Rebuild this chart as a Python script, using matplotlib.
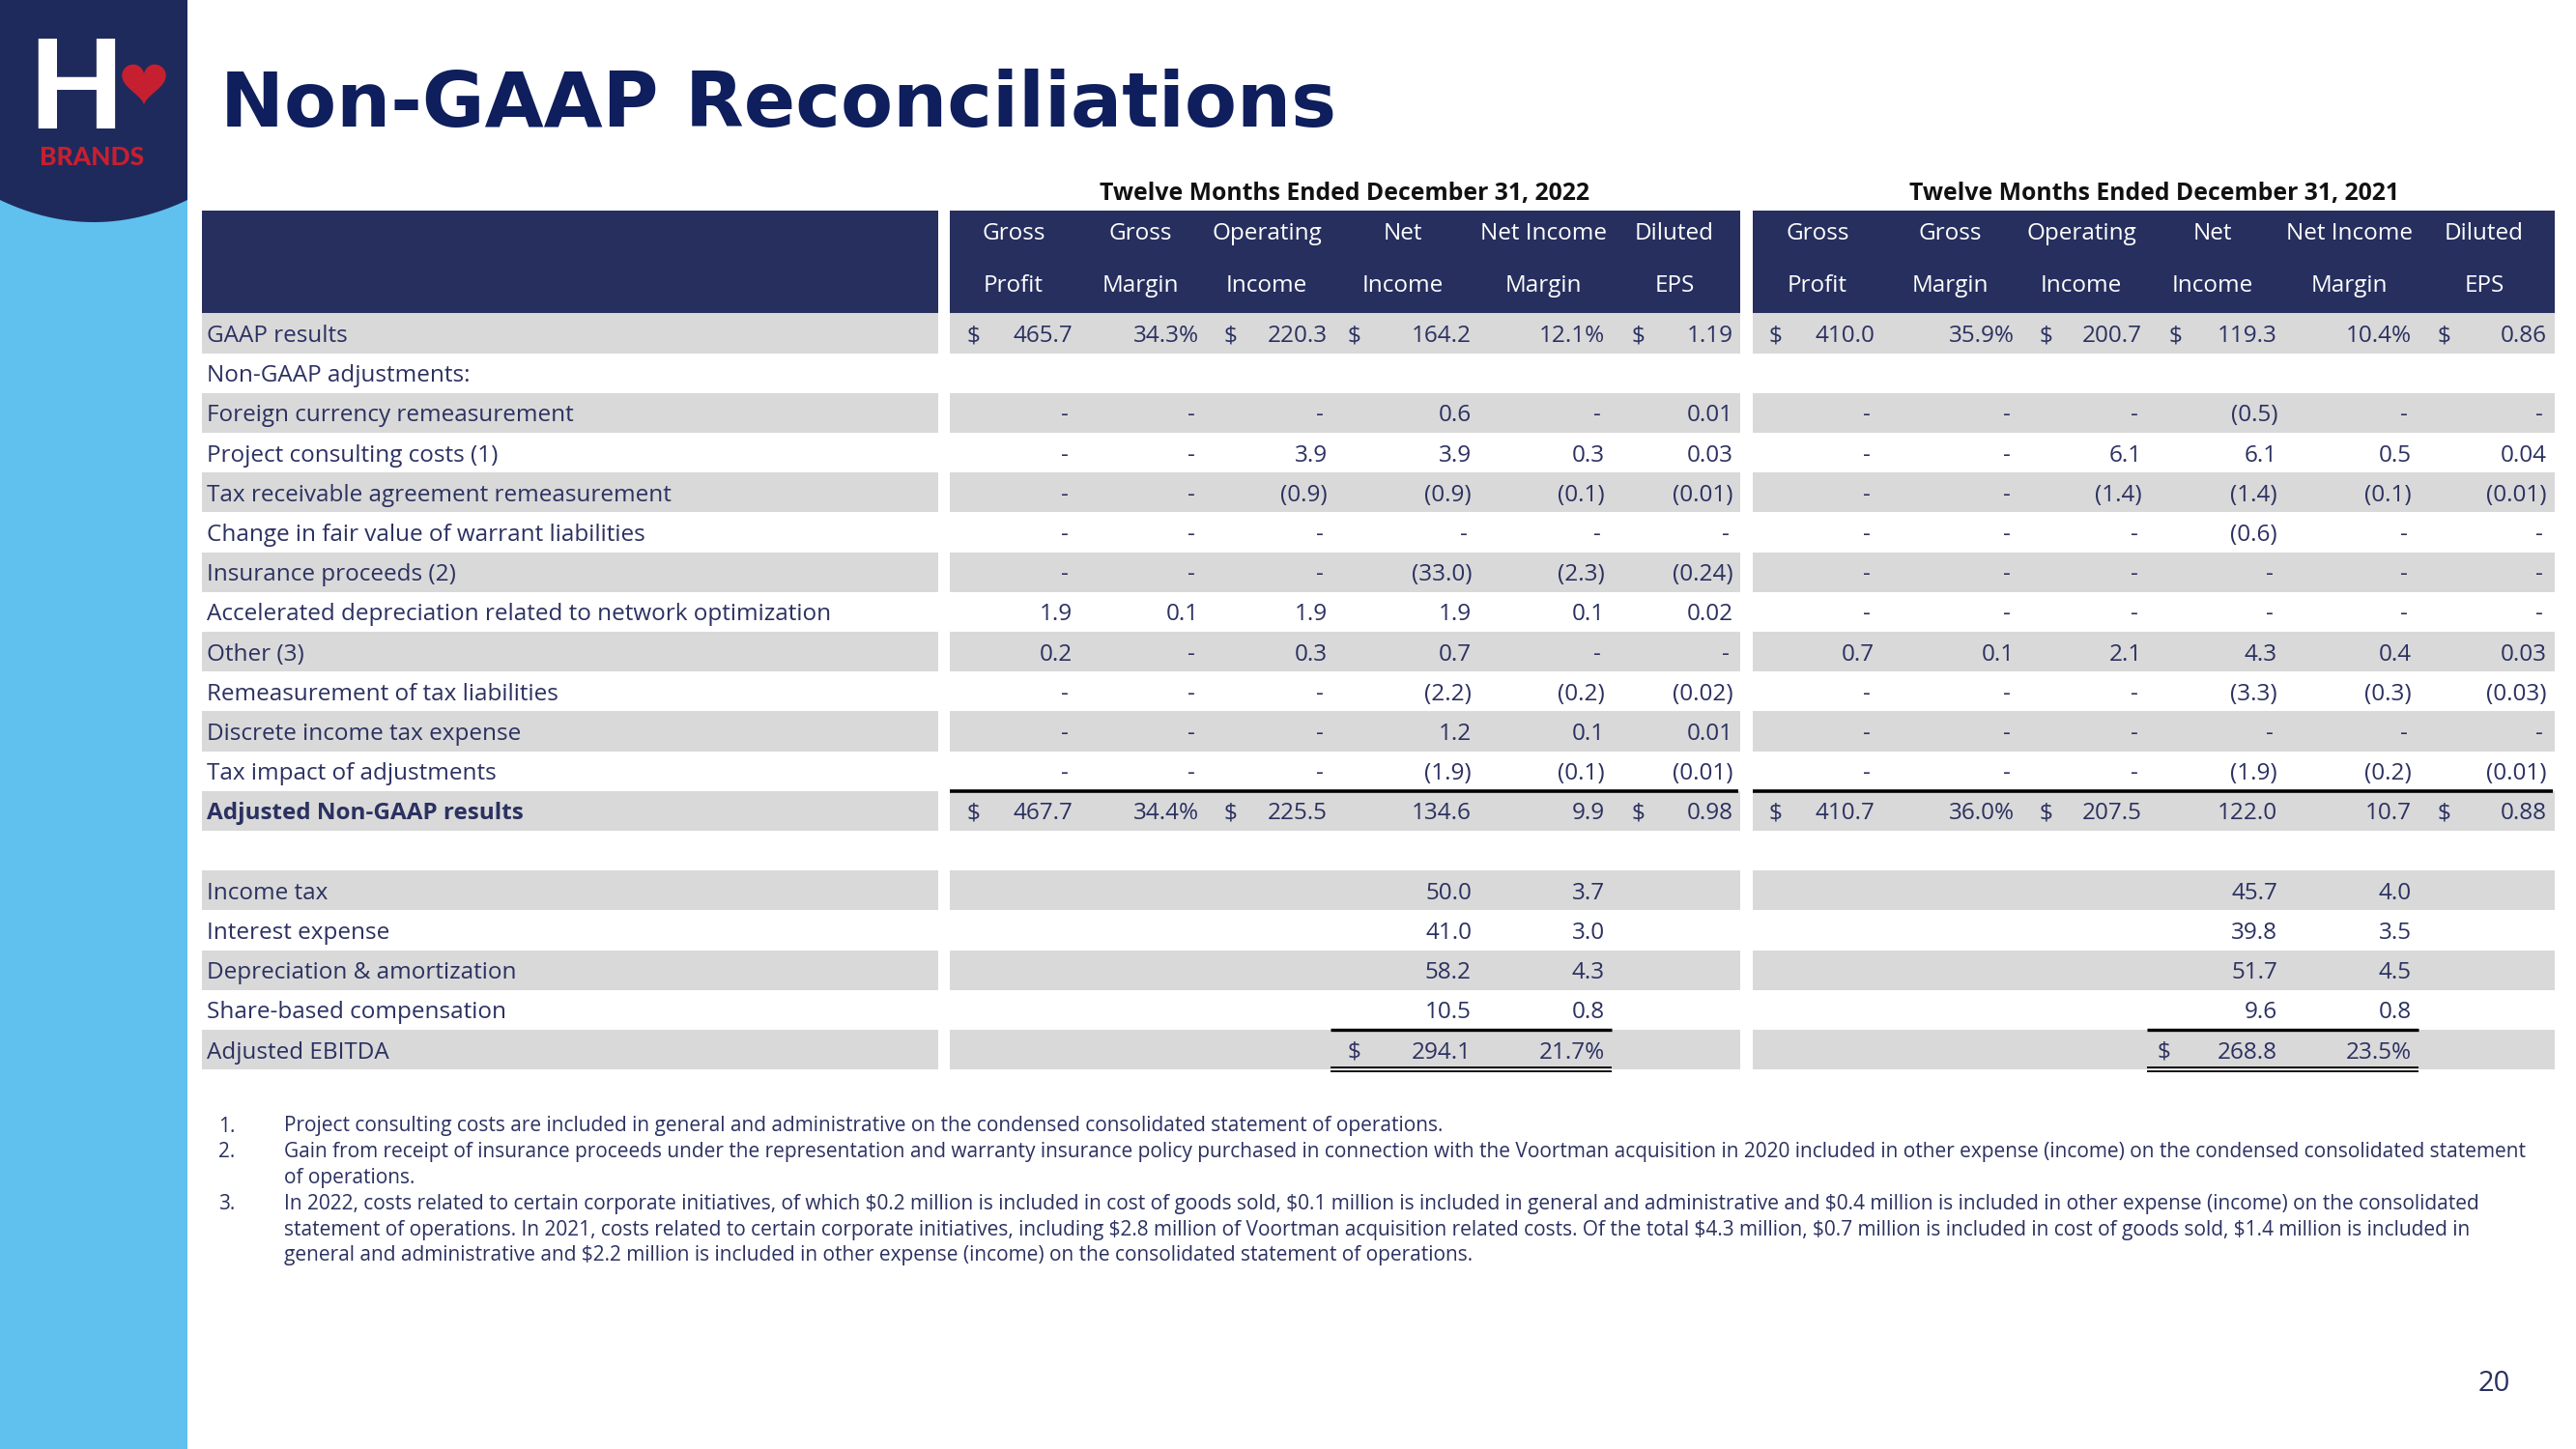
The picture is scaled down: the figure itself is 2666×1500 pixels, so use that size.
import matplotlib
matplotlib.use("Agg")
import matplotlib.pyplot as plt
from matplotlib import font_manager
from matplotlib.patches import Rectangle, Polygon
import numpy as np

plt.rcParams['text.parse_math'] = False

installed = {f.name for f in font_manager.fontManager.ttflist}
def pick(*names):
    for n in names:
        if n in installed:
            return n
    return 'DejaVu Sans'

BODY = pick('Open Sans', 'Lato', 'Noto Sans')
LOGO = pick('Lato', 'Open Sans')
TITLE = 'DejaVu Sans'

# ---- data ----
period_titles = ["Twelve Months Ended December 31, 2022", "Twelve Months Ended December 31, 2021"]
head_top = ["Gross", "Gross", "Operating", "Net", "Net Income", "Diluted"]
head_bot = ["Profit", "Margin", "Income", "Income", "Margin", "EPS"]

row_labels = ["GAAP results", "Non-GAAP adjustments:", "Foreign currency remeasurement",
              "Project consulting costs (1)", "Tax receivable agreement remeasurement",
              "Change in fair value of warrant liabilities", "Insurance proceeds (2)",
              "Accelerated depreciation related to network optimization", "Other (3)",
              "Remeasurement of tax liabilities", "Discrete income tax expense",
              "Tax impact of adjustments", "Adjusted Non-GAAP results"]

vals_2022 = [
    ["$465.7", "34.3%", "$220.3", "$164.2", "12.1%", "$1.19"],
    ["", "", "", "", "", ""],
    ["-", "-", "-", "0.6", "-", "0.01"],
    ["-", "-", "3.9", "3.9", "0.3", "0.03"],
    ["-", "-", "(0.9)", "(0.9)", "(0.1)", "(0.01)"],
    ["-", "-", "-", "-", "-", "-"],
    ["-", "-", "-", "(33.0)", "(2.3)", "(0.24)"],
    ["1.9", "0.1", "1.9", "1.9", "0.1", "0.02"],
    ["0.2", "-", "0.3", "0.7", "-", "-"],
    ["-", "-", "-", "(2.2)", "(0.2)", "(0.02)"],
    ["-", "-", "-", "1.2", "0.1", "0.01"],
    ["-", "-", "-", "(1.9)", "(0.1)", "(0.01)"],
    ["$467.7", "34.4%", "$225.5", "134.6", "9.9", "$0.98"],
]
vals_2021 = [
    ["$410.0", "35.9%", "$200.7", "$119.3", "10.4%", "$0.86"],
    ["", "", "", "", "", ""],
    ["-", "-", "-", "(0.5)", "-", "-"],
    ["-", "-", "6.1", "6.1", "0.5", "0.04"],
    ["-", "-", "(1.4)", "(1.4)", "(0.1)", "(0.01)"],
    ["-", "-", "-", "(0.6)", "-", "-"],
    ["-", "-", "-", "-", "-", "-"],
    ["-", "-", "-", "-", "-", "-"],
    ["0.7", "0.1", "2.1", "4.3", "0.4", "0.03"],
    ["-", "-", "-", "(3.3)", "(0.3)", "(0.03)"],
    ["-", "-", "-", "-", "-", "-"],
    ["-", "-", "-", "(1.9)", "(0.2)", "(0.01)"],
    ["$410.7", "36.0%", "$207.5", "122.0", "10.7", "$0.88"],
]

ebitda_labels = ["Income tax", "Interest expense", "Depreciation & amortization",
                 "Share-based compensation", "Adjusted EBITDA"]
ebitda_ni_2022 = ["50.0", "41.0", "58.2", "10.5", "$294.1"]
ebitda_margin_2022 = ["3.7", "3.0", "4.3", "0.8", "21.7%"]
ebitda_ni_2021 = ["45.7", "39.8", "51.7", "9.6", "$268.8"]
ebitda_margin_2021 = ["4.0", "3.5", "4.5", "0.8", "23.5%"]

footnotes = [
    ("1.", ["Project consulting costs are included in general and administrative on the condensed consolidated statement of operations."]),
    ("2.", ["Gain from receipt of insurance proceeds under the representation and warranty insurance policy purchased in connection with the Voortman acquisition in 2020 included in other expense (income) on the condensed consolidated statement",
            "of operations."]),
    ("3.", ["In 2022, costs related to certain corporate initiatives, of which $0.2 million is included in cost of goods sold, $0.1 million is included in general and administrative and $0.4 million is included in other expense (income) on the consolidated",
            "statement of operations. In 2021, costs related to certain corporate initiatives, including $2.8 million of Voortman acquisition related costs. Of the total $4.3 million, $0.7 million is included in cost of goods sold, $1.4 million is included in",
            "general and administrative and $2.2 million is included in other expense (income) on the consolidated statement of operations."]),
]

# ---- style / layout ----
NAVY = "#262F5E"
TXT = "#2B3160"
TITLE_C = "#0F1E5C"
GRAY = "#D9D9D9"
SKY = "#60C0EE"
RED = "#C62030"

W, H = 2666, 1500
fig = plt.figure(figsize=(W / 100, H / 100), dpi=100)
ax = fig.add_axes([0, 0, 1, 1])
ax.set_xlim(0, W)
ax.set_ylim(H, 0)
ax.axis('off')

# sidebar + logo
ax.add_patch(Rectangle((0, 0), 194, H, color=SKY, lw=0))
xs = np.linspace(0, 194, 60)
ys = 207 + 23 * (1 - ((xs - 97) / 97) ** 2)
ax.add_patch(Polygon(np.column_stack([np.r_[0, xs, 194], np.r_[0, ys, 0]]), closed=True, color="#1F2A5C", lw=0))
ax.text(79, 96, "H", color="white", fontsize=92, fontfamily=LOGO, fontweight='black', ha='center', va='center')
t = np.linspace(0, 2 * np.pi, 200)
hx = 16 * np.sin(t) ** 3
hy = 13 * np.cos(t) - 5 * np.cos(2 * t) - 2 * np.cos(3 * t) - np.cos(4 * t)
ax.add_patch(Polygon(np.column_stack([149 + hx * 1.42, 84 - hy * 1.45]), closed=True, color=RED, lw=0))
ax.text(95, 163, "BRANDS", color=RED, fontsize=19, fontfamily=LOGO, fontweight='black', ha='center', va='center')

ax.text(228, 109, "Non-GAAP Reconciliations", color=TITLE_C, fontsize=56.8, fontfamily=TITLE,
        fontweight='bold', ha='left', va='center')

# table geometry
lab_x0, lab_x1 = 209, 971
blocks = [(983, 1801), (1814, 2644)]
rights = [[1110, 1241, 1374, 1523, 1661, 1794], [1940, 2085, 2217, 2357, 2496, 2636]]
dollars = [[1000, None, 1267, 1394, None, 1688], [1830, None, 2110, 2244, None, 2522]]
centers = [[1049, 1180, 1311, 1452, 1597, 1733], [1881, 2018, 2154, 2290, 2431, 2571]]
row0, rh = 345, 41.2
hdr_top, hdr_bot = 218, 324.4
FS = 17.5
DY = 3

def ry(i):
    return row0 + i * rh

# header
ax.add_patch(Rectangle((lab_x0, hdr_top), lab_x1 - lab_x0, hdr_bot - hdr_top, color=NAVY, lw=0))
for b, (x0, x1) in enumerate(blocks):
    ax.add_patch(Rectangle((x0, hdr_top), x1 - x0, hdr_bot - hdr_top, color=NAVY, lw=0))
    ax.text((x0 + x1) / 2, 201, period_titles[b], color="#111111", fontsize=17.8, fontfamily=BODY,
            fontweight='bold', ha='center', va='center')
    for c in range(6):
        ax.text(centers[b][c], 242, head_top[c], color="white", fontsize=FS, fontfamily=BODY, ha='center', va='center')
        ax.text(centers[b][c], 296, head_bot[c], color="white", fontsize=FS, fontfamily=BODY, ha='center', va='center')

def band(i):
    y = ry(i) - rh / 2
    ax.add_patch(Rectangle((lab_x0, y), lab_x1 - lab_x0, rh, color=GRAY, lw=0))
    for x0, x1 in blocks:
        ax.add_patch(Rectangle((x0, y), x1 - x0, rh, color=GRAY, lw=0))

def cell(b, c, y, s):
    if s == "":
        return
    if s == "-":
        ax.text(rights[b][c] - 4, y, "-", color=TXT, fontsize=FS, fontfamily=BODY, ha='right', va='center')
        return
    if s.startswith("$"):
        ax.text(dollars[b][c], y, "$", color=TXT, fontsize=FS, fontfamily=BODY, ha='left', va='center')
        s = s[1:]
    ax.text(rights[b][c], y, s, color=TXT, fontsize=FS, fontfamily=BODY, ha='right', va='center')

for i, lab in enumerate(row_labels):
    if i % 2 == 0:
        band(i)
    ax.text(214, ry(i) + DY, lab, color=TXT, fontsize=FS, fontfamily=BODY, ha='left', va='center',
            fontweight='bold' if i == len(row_labels) - 1 else 'normal')
    for b, vals in enumerate([vals_2022, vals_2021]):
        for c in range(6):
            cell(b, c, ry(i) + DY, vals[i][c])

# EBITDA section
ebitda_dollar = [1394, 2232]
for k, lab in enumerate(ebitda_labels):
    i = 14 + k
    if i % 2 == 0:
        band(i)
    y = ry(i) + DY
    ax.text(214, y, lab, color=TXT, fontsize=FS, fontfamily=BODY, ha='left', va='center')
    for b, (ni, mg) in enumerate([(ebitda_ni_2022, ebitda_margin_2022), (ebitda_ni_2021, ebitda_margin_2021)]):
        s = ni[k]
        if s.startswith("$"):
            ax.text(ebitda_dollar[b], y, "$", color=TXT, fontsize=FS, fontfamily=BODY, ha='left', va='center')
            s = s[1:]
        ax.text(rights[b][3], y, s, color=TXT, fontsize=FS, fontfamily=BODY, ha='right', va='center')
        ax.text(rights[b][4], y, mg[k], color=TXT, fontsize=FS, fontfamily=BODY, ha='right', va='center')

# rules
ytot = ry(12) - rh / 2
for x0, x1 in blocks:
    ax.plot([x0, x1 - 2], [ytot, ytot], color="black", lw=2.6, solid_capstyle='butt')
eb_spans = [(1377, 1668), (2222, 2503)]
yt, yb = ry(18) - rh / 2, ry(18) + rh / 2
for x0, x1 in eb_spans:
    ax.plot([x0, x1], [yt, yt], color="black", lw=2.4, solid_capstyle='butt')
    ax.plot([x0, x1], [yb - 2, yb - 2], color="black", lw=1.3, solid_capstyle='butt')
    ax.plot([x0, x1], [yb + 2, yb + 2], color="black", lw=1.3, solid_capstyle='butt')

# footnotes
fy = 1166
for num, lines in footnotes:
    ax.text(226, fy, num, color=TXT, fontsize=15, fontfamily=BODY, ha='left', va='center')
    for ln in lines:
        ax.text(294, fy, ln, color=TXT, fontsize=15, fontfamily=BODY, ha='left', va='center')
        fy += 26.8

ax.text(2581, 1432, "20", color=TXT, fontsize=21, fontfamily=BODY, ha='center', va='center')

fig.savefig("out.png", dpi=100)
